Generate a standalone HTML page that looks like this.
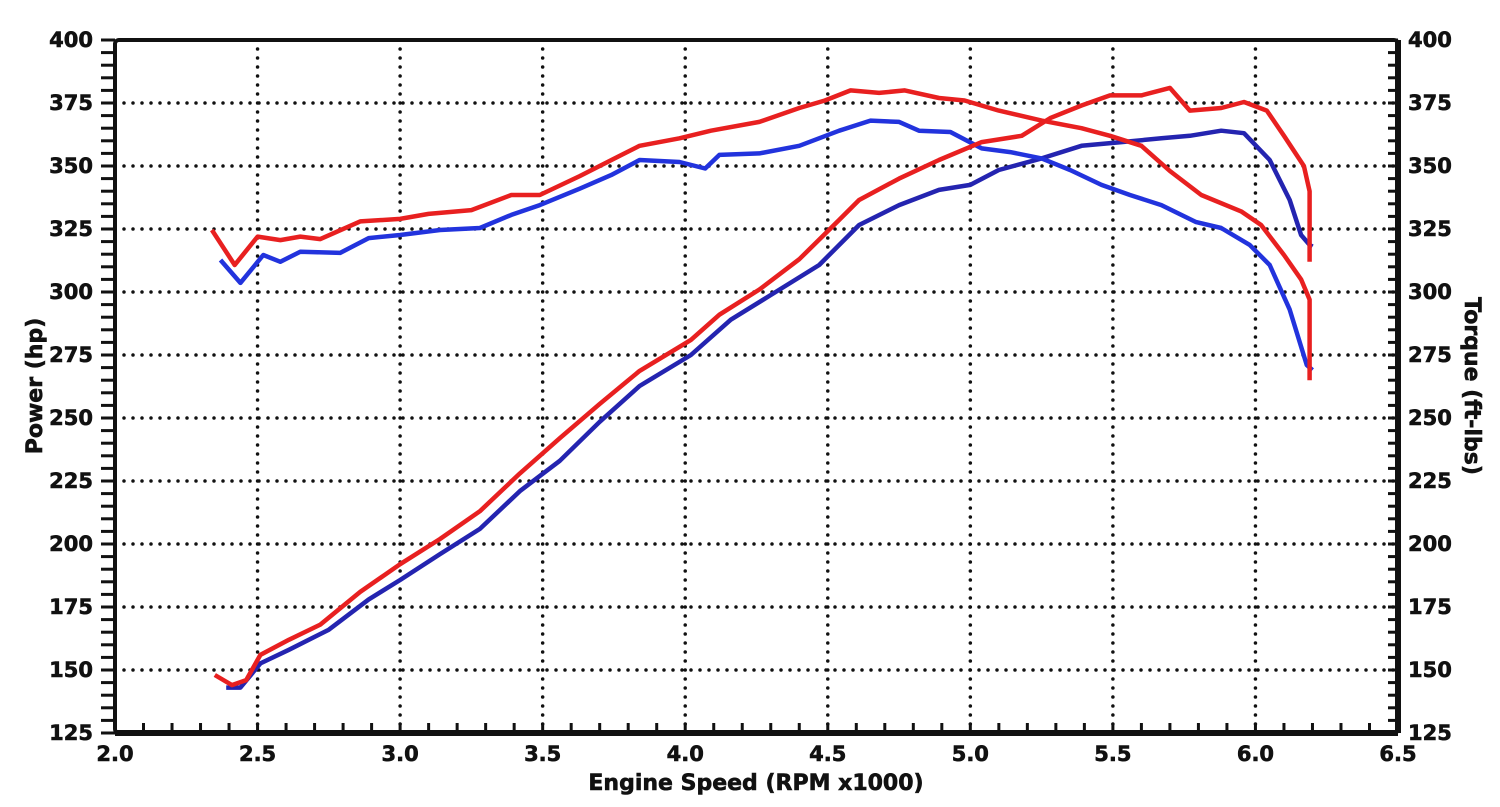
<!DOCTYPE html>
<html><head><meta charset="utf-8"><style>
body{margin:0;background:#fff;}
text{font-family:"DejaVu Sans","Liberation Sans",sans-serif;font-weight:bold;fill:#111;}
</style></head><body>
<svg id="chart" width="1500" height="802" xmlns="http://www.w3.org/2000/svg">
<g id="grid"></g>
<g id="axes"></g>
<g id="series"></g>
<text x="756" y="790" font-size="22" text-anchor="middle" stroke="#111" stroke-width="0.6">Engine Speed (RPM x1000)</text>
<text transform="translate(42,386) rotate(-90)" font-size="22" text-anchor="middle" stroke="#111" stroke-width="0.6">Power (hp)</text>
<text transform="translate(1465,386) rotate(90)" font-size="22" text-anchor="middle" stroke="#111" stroke-width="0.6">Torque (ft-lbs)</text>
</svg>
<script>
const xTicks=["2.0","2.5","3.0","3.5","4.0","4.5","5.0","5.5","6.0","6.5"];
const yTicks=[125,150,175,200,225,250,275,300,325,350,375,400];
const redTorqueX=[2.34,2.42,2.5,2.58,2.65,2.72,2.86,3.0,3.1,3.25,3.39,3.49,3.63,3.77,3.84,3.98,4.09,4.26,4.4,4.49,4.58,4.68,4.77,4.89,4.98,5.1,5.25,5.39,5.49,5.6,5.7,5.81,5.95,6.02,6.1,6.16,6.19,6.19];
const redTorqueY=[324.6,310.7,322,320.6,322,321,328,329,331,332.5,338.5,338.5,346,354,358,361,364,367.5,373,376,380,379,380,377,376,372,368,365,362,358,348,338.5,332,326.6,314.7,305,297,265];
const blueTorqueX=[2.37,2.44,2.52,2.58,2.65,2.79,2.89,3.0,3.14,3.28,3.39,3.49,3.63,3.74,3.84,3.98,4.07,4.12,4.26,4.4,4.54,4.65,4.75,4.82,4.93,5.04,5.14,5.25,5.35,5.46,5.56,5.67,5.79,5.88,5.98,6.05,6.12,6.18,6.2];
const blueTorqueY=[312.7,303.6,314.7,312,316,315.5,321.4,322.6,324.6,325.4,330.6,334.5,341,346.4,352.4,351.6,349,354.4,355,358,364,368,367.5,364,363.5,357,355.5,353,348.4,342.5,338.5,334.5,327.8,325.4,318.7,310.7,293,271,269];
const redPowerX=[2.35,2.41,2.46,2.51,2.61,2.72,2.86,3.0,3.14,3.28,3.42,3.56,3.7,3.84,4.02,4.12,4.26,4.4,4.54,4.61,4.75,4.89,5.04,5.18,5.28,5.39,5.49,5.6,5.7,5.77,5.88,5.96,6.04,6.1,6.17,6.19,6.19];
const redPowerY=[148,144,146,156,162,168,181,192,202,213,228,242,255.6,268.7,281,291,301,313,328.6,336.5,345,352.4,359.5,362,369,374,378,378,381,372,373,375.4,372,362,350,340,312];
const bluePowerX=[2.39,2.44,2.51,2.61,2.75,2.89,3.0,3.14,3.28,3.42,3.56,3.7,3.84,4.02,4.16,4.3,4.47,4.61,4.75,4.89,5.0,5.1,5.25,5.39,5.53,5.67,5.77,5.88,5.96,6.05,6.12,6.16,6.19,6.2];
const bluePowerY=[143,143,152.6,158,166,178,185.7,196,206,221,233,248.5,262.7,275,289,298.8,310.7,326.6,334.5,340.5,342.5,348.4,353,358,359.5,361,362,364,363,352.4,336.5,322.6,318.7,318];

const L=115,R=1398,T=40,B=733;
const sx=v=>L+(v-2)/4.5*(R-L);
const sy=v=>B-(v-125)/275*(B-T);
const NS="http://www.w3.org/2000/svg";
function mk(tag,attrs,parent){const e=document.createElementNS(NS,tag);for(const k in attrs)e.setAttribute(k,attrs[k]);parent.appendChild(e);return e;}
const grid=document.getElementById('grid'),axes=document.getElementById('axes'),series=document.getElementById('series');
xTicks.forEach((t,i)=>{const x=sx(parseFloat(t));
 if(i>0&&i<xTicks.length-1){const g=mk('line',{x1:x,y1:T,x2:x,y2:B,stroke:'#111','stroke-width':3.5,'stroke-dasharray':'0 9','stroke-linecap':'round'},grid);
 
 }
 const lb=mk('text',{x:x,y:761,'font-size':21,'text-anchor':'middle',stroke:'#111','stroke-width':0.6},axes);lb.textContent=t;
 
 
});
yTicks.forEach((t,i)=>{const y=sy(t);
 if(i>0&&i<yTicks.length-1){const g=mk('line',{x1:L,y1:y,x2:R,y2:y,stroke:'#111','stroke-width':3.5,'stroke-dasharray':'0 9','stroke-linecap':'round'},grid);
 
 }
 const a=mk('text',{x:93,y:y+7,'font-size':21,'text-anchor':'end',stroke:'#111','stroke-width':0.6},axes);a.textContent=t;
 
 
 const b=mk('text',{x:1408,y:y+7,'font-size':21,stroke:'#111','stroke-width':0.6},axes);b.textContent=t;
 
 
});
for(let v=125;v<=400;v+=5){const y=sy(v);
 mk('line',{x1:L-14,y1:y,x2:L,y2:y,stroke:'#111','stroke-width':3},axes);
 mk('line',{x1:R-10,y1:y,x2:R,y2:y,stroke:'#111','stroke-width':3},axes);}
for(let v=2;v<=6.5001;v+=0.1){const x=sx(v);mk('line',{x1:x,y1:B,x2:x,y2:B-10,stroke:'#111','stroke-width':3},axes);}
const fr=mk('rect',{x:L,y:T,width:R-L,height:B-T,fill:'none',stroke:'#111','stroke-width':4,rx:4},axes);


mk('line',{x1:R,y1:T,x2:R,y2:B,stroke:'#111','stroke-width':6},axes);
mk('line',{x1:L,y1:B,x2:R,y2:B,stroke:'#111','stroke-width':6},axes);
function line(xs,ys,col,name){const d=xs.map((x,i)=>(i?'L':'M')+sx(x).toFixed(1)+','+sy(ys[i]).toFixed(1)).join(' ');
 const p=mk('path',{d:d,fill:'none',stroke:col,'stroke-width':4.5,'stroke-linejoin':'round'},series);
 
 }
line(bluePowerX,bluePowerY,'#2424b0','blue-power-line');
line(blueTorqueX,blueTorqueY,'#2233dd','blue-torque-line');
line(redPowerX,redPowerY,'#e82020','red-power-line');
line(redTorqueX,redTorqueY,'#e82020','red-torque-line');
</script>
</body></html>
